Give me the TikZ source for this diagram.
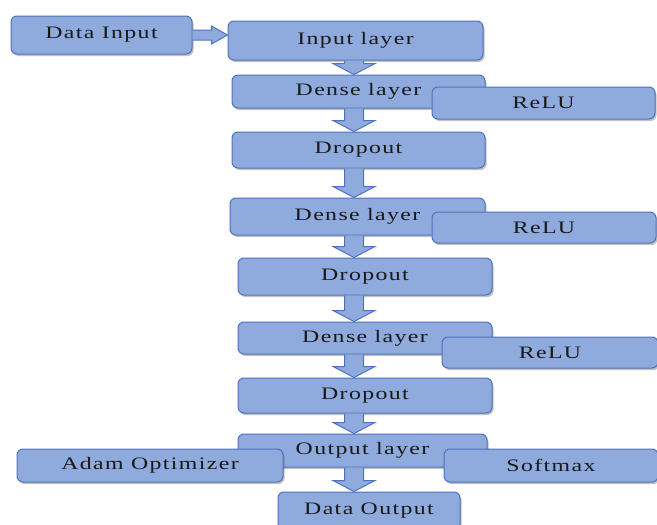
\documentclass[tikz,border=0pt]{standalone}
\usepackage{fontspec}
\setmainfont{Liberation Serif}[FakeStretch=1.36, LetterSpace=8]
\usetikzlibrary{shadows,calc}
\definecolor{boxfill}{RGB}{143,170,220}
\definecolor{boxline}{RGB}{78,114,190}
\tikzset{
  box/.style={rectangle, rounded corners=6pt, draw=boxline, fill=boxfill,
    line width=1pt, inner sep=0pt, text=black!90,
    font=\fontsize{17.5}{19}\selectfont,
    drop shadow={shadow xshift=1.5pt, shadow yshift=-2pt, opacity=0.35, fill=black!70}},
  blockarrow/.style={draw=boxline, fill=boxfill, line width=1pt, line join=miter},
}
% vertical block arrow from the bottom of #1 to the top of #2, on the spine
\newcommand\flowdown[2]{%
  \filldraw[blockarrow] let \p1=(#1.south), \p2=(#2.north), \p3=(spine) in
    (\x3-9.5pt,\y1) -- (\x3-9.5pt,\y2+11pt) -- (\x3-21pt,\y2+11pt) -- (\x3,\y2)
    -- (\x3+21pt,\y2+11pt) -- (\x3+9.5pt,\y2+11pt) -- (\x3+9.5pt,\y1);}
\begin{document}
\begin{tikzpicture}[x=1pt, y=-1pt]
\useasboundingbox (0,0) rectangle (657,525);
\coordinate (spine) at (354,0);

% main column
\node[box, minimum width=181pt, minimum height=38pt] (datain)  at (101.5,35)  {Data Input};
\node[box, minimum width=255pt, minimum height=39pt] (inlayer) at (355.5,40.5) {Input layer};
\node[box, minimum width=253pt, minimum height=33pt] (dense1)  at (358.5,91.5) {Dense layer};
\node[box, minimum width=223pt, minimum height=32pt] (relu1)   at (543.5,103)  {ReLU};
\node[box, minimum width=253pt, minimum height=36pt] (drop1)   at (358.5,150)  {Dropout};
\node[box, minimum width=255pt, minimum height=37pt] (dense2)  at (357.5,216.5) {Dense layer};
\node[box, minimum width=224pt, minimum height=31pt] (relu2)   at (544,227.5)  {ReLU};
\node[box, minimum width=254pt, minimum height=37pt] (drop2)   at (365,276.5)  {Dropout};
\node[box, minimum width=254pt, minimum height=32pt] (dense3)  at (365,338)    {Dense layer};
\node[box, minimum width=216pt, minimum height=31pt] (relu3)   at (550,352.5)  {ReLU};
\node[box, minimum width=254pt, minimum height=35pt] (drop3)   at (365,395.5)  {Dropout};
\node[box, minimum width=249pt, minimum height=33pt] (outlayer) at (362.5,450.5) {Output layer};
\node[box, minimum width=266pt, minimum height=33pt] (adam)    at (150,465.5)  {Adam Optimizer};
\node[box, minimum width=214pt, minimum height=33pt] (softmax) at (551,465.5)  {Softmax};
\node[box, minimum width=182pt, minimum height=38pt] (dataout) at (369,511)    {Data Output};

% horizontal block arrow into the input layer
\filldraw[blockarrow] let \p1=(datain.east), \p2=(inlayer.west) in
  (\x1,\y1+5pt) -- (\x2-16pt,\y1+5pt) -- (\x2-16pt,\y1+9pt) -- (\x2,\y1)
  -- (\x2-16pt,\y1-9pt) -- (\x2-16pt,\y1-5pt) -- (\x1,\y1-5pt);

% vertical block arrows
\flowdown{inlayer}{dense1}
\flowdown{dense1}{drop1}
\flowdown{drop1}{dense2}
\flowdown{dense2}{drop2}
\flowdown{drop2}{dense3}
\flowdown{dense3}{drop3}
\flowdown{drop3}{outlayer}
\flowdown{outlayer}{dataout}
\end{tikzpicture}
\end{document}
